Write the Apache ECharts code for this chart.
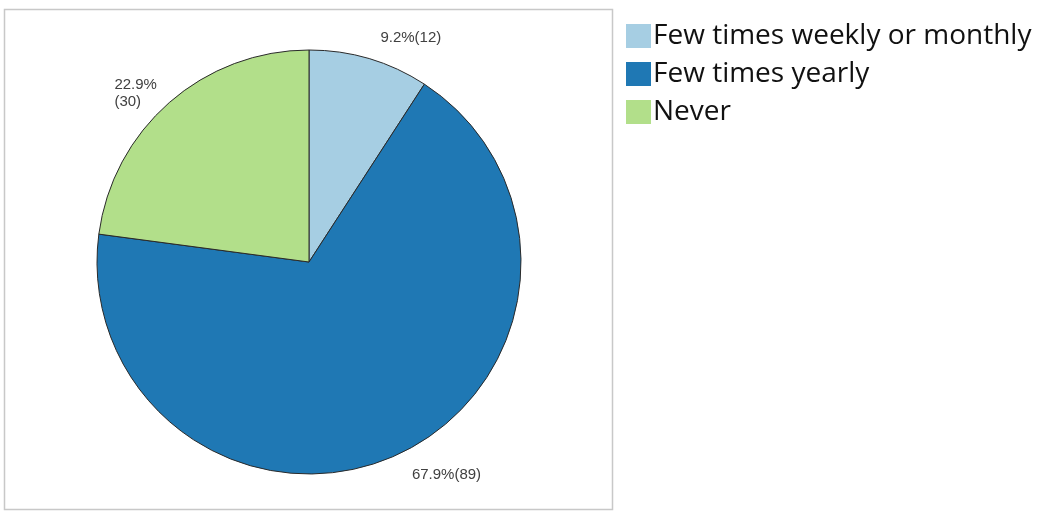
<!DOCTYPE html>
<html>
<head>
<meta charset="utf-8">
<style>
  html, body { margin: 0; padding: 0; background: #ffffff; }
  #chart { width: 1044px; height: 512px; }
</style>
<script src="https://cdn.jsdelivr.net/npm/echarts@6/dist/echarts.min.js"></script>
</head>
<body>
<div id="chart"></div>
<script>
// Frequency categories and respondent counts
const categories = ['Few times weekly or monthly', 'Few times yearly', 'Never'];
const counts = [12, 89, 30];
const sliceColors = ['#a6cee3', '#1f78b4', '#b2df8a'];

const total = counts.reduce((a, b) => a + b, 0);
const STACKED = 2; // slice whose label puts the count on a second line

const chart = echarts.init(document.getElementById('chart'), null, { renderer: 'canvas' });

chart.setOption({
  animation: false,
  backgroundColor: '#ffffff',
  color: sliceColors,
  graphic: [{
    type: 'rect',
    shape: { x: 4.5, y: 9.5, width: 608, height: 500 },
    style: { fill: 'none', stroke: '#c8c8c8', lineWidth: 1.5 },
    silent: true,
    z: -1
  }],
  legend: {
    orient: 'vertical',
    left: 621,
    top: 17,
    itemWidth: 25,
    itemHeight: 24,
    itemGap: 10,
    icon: 'rect',
    selectedMode: false,
    itemStyle: { borderWidth: 0 },
    textStyle: {
      fontFamily: '"Open Sans", "Noto Sans", sans-serif',
      fontSize: 28,
      color: '#111111',
      padding: [0, 0, 0, -3]
    },
    data: categories
  },
  series: [{
    type: 'pie',
    center: [309, 262],
    radius: 212,
    startAngle: 90,
    clockwise: true,
    avoidLabelOverlap: false,
    itemStyle: { borderColor: '#2a2a2a', borderWidth: 1 },
    emphasis: { disabled: true },
    label: {
      show: true,
      position: 'outside',
      fontFamily: 'Arial, "Liberation Sans", sans-serif',
      fontSize: 15,
      color: '#404040',
      lineHeight: 17,
      formatter: (p) => {
        const pct = (p.value / total * 100).toFixed(1) + '%';
        if (p.dataIndex === STACKED) {
          return '{l|' + pct + '}\n{l|(' + p.value + ')}';
        }
        return pct + '(' + p.value + ')';
      },
      rich: {
        l: { width: 42, align: 'left', fontSize: 15, color: '#404040', lineHeight: 17 }
      }
    },
    labelLine: { show: false, length: 22, length2: 0 },
    data: categories.map((name, i) => ({
      name: name,
      value: counts[i],
      labelLine: i === STACKED ? { show: false, length: 12, length2: 0 } : undefined
    }))
  }]
});
</script>
</body>
</html>
